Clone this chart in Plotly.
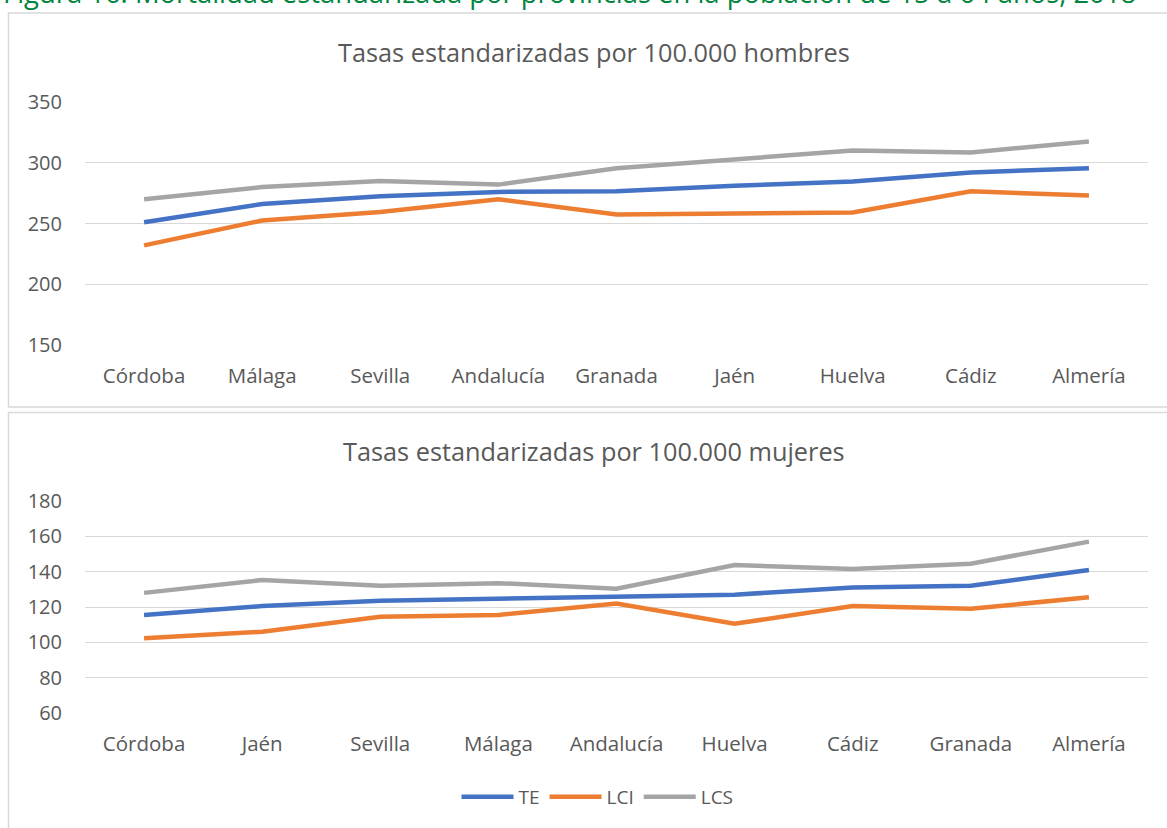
import plotly.graph_objects as go

W, H = 1167, 828

cats_h = ["Córdoba", "Málaga", "Sevilla", "Andalucía", "Granada", "Jaén", "Huelva", "Cádiz", "Almería"]
te_h = [251, 266, 272.5, 276, 276.5, 281, 284.5, 292, 295.5]
lci_h = [232, 252.5, 259.5, 270, 257.5, 258.5, 259, 276.5, 273]
lcs_h = [270, 280, 285, 282, 295.5, 303, 310, 308.5, 317.5]

cats_m = ["Córdoba", "Jaén", "Sevilla", "Málaga", "Andalucía", "Huelva", "Cádiz", "Granada", "Almería"]
te_m = [115.5, 120.5, 123.5, 124.5, 126, 127, 131, 132, 141]
lci_m = [102.3, 106, 114.5, 115.5, 122, 110.5, 120.5, 119, 125.5]
lcs_m = [128, 135.3, 132, 133.5, 130.3, 143.8, 141.5, 144.5, 157]

series_names = ["TE", "LCI", "LCS"]
colors = ["#4472C4", "#ED7D31", "#A5A5A5"]

FONT = "Open Sans"
TXT = "#595959"

def px_x(x):
    return x / W

def px_y(y):
    return 1 - y / H

fig = go.Figure()
for name, vals, col in zip(series_names, [te_h, lci_h, lcs_h], colors):
    fig.add_trace(go.Scatter(x=cats_h, y=vals, name=name, mode="lines",
                             line=dict(color=col, width=4.5), xaxis="x", yaxis="y",
                             showlegend=False))
for name, vals, col in zip(series_names, [te_m, lci_m, lcs_m], colors):
    fig.add_trace(go.Scatter(x=cats_m, y=vals, name=name, mode="lines",
                             line=dict(color=col, width=4.5), xaxis="x2", yaxis="y2",
                             showlegend=True))

axis_common = dict(showgrid=False, zeroline=False, showline=False, ticks="", automargin=False,
                   tickfont=dict(family=FONT, size=20.5, color=TXT))
yaxis_common = dict(showgrid=True, gridcolor="#d9d9d9", gridwidth=1, zeroline=False,
                    showline=False, ticks="", automargin=False,
                    tickfont=dict(family=FONT, size=20, color=TXT),
                    ticklabelstandoff=22)

fig.update_layout(
    template="none",
    width=W, height=H,
    margin=dict(l=0, r=0, t=0, b=0, pad=0, autoexpand=False),
    paper_bgcolor="white", plot_bgcolor="white",
    xaxis=dict(domain=[px_x(85), px_x(1148)], range=[-0.5, 8.5], anchor="y",
               ticklabelstandoff=16, **axis_common),
    yaxis=dict(domain=[px_y(345), px_y(102)], range=[150, 350], dtick=50, anchor="x",
               **yaxis_common),
    xaxis2=dict(domain=[px_x(85), px_x(1148)], range=[-0.5, 8.5], anchor="y2",
                ticklabelstandoff=16, **axis_common),
    yaxis2=dict(domain=[px_y(713), px_y(501)], range=[60, 180], dtick=20, anchor="x2",
                **yaxis_common),
    showlegend=True,
    legend=dict(orientation="h", x=0.512, xanchor="center", y=px_y(797), yanchor="middle",
                font=dict(family=FONT, size=19, color=TXT), itemwidth=52,
                tracegroupgap=0, bgcolor="rgba(0,0,0,0)"),
    shapes=[
        dict(type="rect", xref="paper", yref="paper", x0=px_x(8.5), x1=px_x(1175),
             y0=px_y(407), y1=px_y(13), line=dict(color="#d9d9d9", width=1.5)),
        dict(type="rect", xref="paper", yref="paper", x0=px_x(8.5), x1=px_x(1175),
             y0=px_y(840), y1=px_y(412.5), line=dict(color="#d9d9d9", width=1.5)),
    ],
    annotations=[
        dict(text="Figura 16. Mortalidad estandarizada por provincias en la población de 15 a 64 años, 2018",
             xref="paper", yref="paper", x=px_x(1), xanchor="left", y=px_y(-7.5), yanchor="middle",
             showarrow=False, font=dict(family=FONT, size=27.4, color="#00843D")),
        dict(text="Tasas estandarizadas por 100.000 hombres", xref="paper", yref="paper",
             x=px_x(594), y=px_y(52), xanchor="center", yanchor="middle", showarrow=False,
             font=dict(family=FONT, size=25.3, color=TXT)),
        dict(text="Tasas estandarizadas por 100.000 mujeres", xref="paper", yref="paper",
             x=px_x(594), y=px_y(451), xanchor="center", yanchor="middle", showarrow=False,
             font=dict(family=FONT, size=25.3, color=TXT)),
    ],
)

fig.write_html("out.html", config={"displayModeBar": False},
               post_script="document.body.style.margin='0';document.body.style.overflow='hidden';")
